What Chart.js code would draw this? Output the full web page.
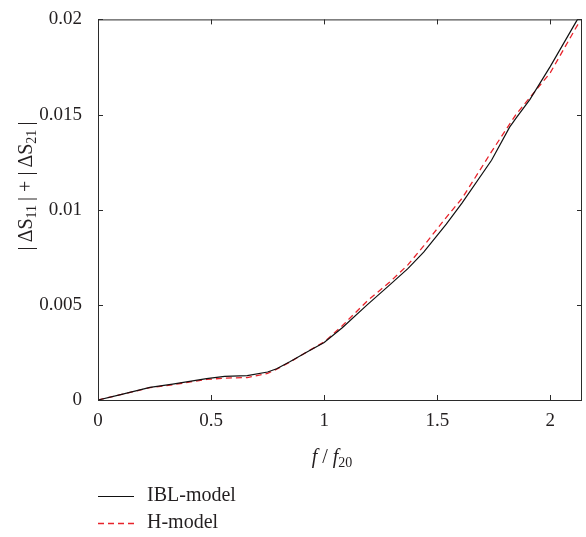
<!DOCTYPE html>
<html>
<head>
<meta charset="utf-8">
<script src="https://cdn.jsdelivr.net/npm/chart.js@4.4.1/dist/chart.umd.min.js"></script>
<style>
  html, body { margin: 0; padding: 0; background: #fff; }
  #wrap { width: 586px; height: 537px; }
</style>
</head>
<body>
<div id="wrap"><canvas id="chart"></canvas></div>
<script>
// values
const freq = [0, 0.1, 0.23, 0.33, 0.48, 0.56, 0.66, 0.75, 0.79, 0.85, 0.92, 1.0, 1.08, 1.19, 1.29, 1.37, 1.44, 1.54, 1.61, 1.74, 1.82, 1.85, 1.91, 2.0, 2.12, 2.14];
const iblModel = [0, 0.00028, 0.00066, 0.00083, 0.00112, 0.00124, 0.00128, 0.00147, 0.00164, 0.00202, 0.0025, 0.00302, 0.0038, 0.005, 0.00605, 0.0069, 0.00777, 0.00924, 0.01036, 0.0126, 0.01434, 0.01484, 0.0158, 0.01753, 0.02, 0.0204];
const hModel = [0, 0.00028, 0.00065, 0.0008, 0.00108, 0.00115, 0.00118, 0.0014, 0.00162, 0.002, 0.0025, 0.00305, 0.0039, 0.0052, 0.0062, 0.0071, 0.0081, 0.0096, 0.0106, 0.01305, 0.0145, 0.01503, 0.0159, 0.0172, 0.0197, 0.0199];
const xTicks = [0, 0.5, 1, 1.5, 2];
const yTicks = [0, 0.005, 0.01, 0.015, 0.02];
const seriesNames = ['IBL-model', 'H-model'];

const FONT = '"Liberation Serif", "DejaVu Serif", serif';
const TEXT = '#231f20';

// box with inward ticks on all four sides
const frame = {
  id: 'frame',
  afterDatasetsDraw(chart) {
    const { ctx, chartArea: a, scales: { x, y } } = chart;
    ctx.save();
    ctx.strokeStyle = '#2b2b2b';
    ctx.lineWidth = 1;
    ctx.strokeRect(a.left + 0.5, a.top + 0.5, a.right - a.left - 1, a.bottom - a.top);
    ctx.beginPath();
    x.ticks.forEach(t => {
      const px = Math.round(x.getPixelForValue(t.value)) + 0.5;
      ctx.moveTo(px, a.bottom); ctx.lineTo(px, a.bottom - 5);
      ctx.moveTo(px, a.top); ctx.lineTo(px, a.top + 5);
    });
    y.ticks.forEach(t => {
      const py = Math.round(y.getPixelForValue(t.value)) + 0.5;
      ctx.moveTo(a.left, py); ctx.lineTo(a.left + 5, py);
      ctx.moveTo(a.right, py); ctx.lineTo(a.right - 5, py);
    });
    ctx.stroke();
    ctx.restore();
  }
};

// draws a run of text pieces, subscripts smaller and lowered
function drawPieces(ctx, pieces, cx, cy) {
  const widths = pieces.map(p => {
    ctx.font = (p.it ? 'italic ' : '') + (p.sub ? '14px ' : '20px ') + FONT;
    return ctx.measureText(p.t).width;
  });
  let x = cx - widths.reduce((s, w) => s + w, 0) / 2;
  pieces.forEach((p, i) => {
    ctx.font = (p.it ? 'italic ' : '') + (p.sub ? '14px ' : '20px ') + FONT;
    ctx.fillText(p.t, x, cy + (p.sub ? 5 : 0));
    x += widths[i];
  });
}

const extras = {
  id: 'extras',
  afterDraw(chart) {
    const { ctx, chartArea: a } = chart;
    ctx.save();
    ctx.fillStyle = TEXT;
    ctx.textBaseline = 'middle';
    ctx.textAlign = 'left';

    // x title
    drawPieces(ctx, [
      { t: 'f', it: true }, { t: ' / ' }, { t: 'f', it: true }, { t: '20', sub: true }
    ], (a.left + a.right) / 2 - 8, 458);

    // y title
    ctx.save();
    ctx.translate(27, 186);
    ctx.rotate(-Math.PI / 2);
    drawPieces(ctx, [
      { t: '|\u2009ΔS' }, { t: '11', sub: true }, { t: '\u2009| + |\u2009ΔS' }, { t: '21', sub: true }, { t: '\u2009|' }
    ], 0, 0);
    ctx.restore();

    // legend
    chart.data.datasets.forEach((ds, i) => {
      const ly = 496 + i * 27;
      ctx.save();
      ctx.strokeStyle = ds.borderColor;
      ctx.lineWidth = ds.borderWidth;
      ctx.setLineDash(ds.borderDash || []);
      ctx.beginPath();
      ctx.moveTo(98, ly + 0.5);
      ctx.lineTo(134, ly + 0.5);
      ctx.stroke();
      ctx.restore();
      ctx.font = '20px ' + FONT;
      ctx.fillText(ds.label, 147, ly);
    });
    ctx.restore();
  }
};

new Chart(document.getElementById('chart'), {
  type: 'line',
  data: {
    datasets: [
      {
        label: seriesNames[0],
        data: freq.map((f, i) => ({ x: f, y: iblModel[i] })),
        borderColor: '#111111',
        borderWidth: 1.2,
        pointRadius: 0,
        tension: 0
      },
      {
        label: seriesNames[1],
        data: freq.map((f, i) => ({ x: f, y: hModel[i] })),
        borderColor: '#e8232b',
        borderWidth: 1.3,
        borderDash: [6, 4],
        pointRadius: 0,
        tension: 0
      }
    ]
  },
  options: {
    responsive: true,
    maintainAspectRatio: false,
    animation: false,
    layout: { padding: { top: 14, right: 4, left: 0, bottom: 0 } },
    plugins: { legend: { display: false }, tooltip: { enabled: false } },
    scales: {
      x: {
        type: 'linear',
        min: 0,
        max: 2.14,
        grid: { display: false },
        border: { display: false },
        afterBuildTicks: s => { s.ticks = xTicks.map(v => ({ value: v })); },
        afterFit: s => { s.height = 137; },
        ticks: {
          padding: 2,
          color: TEXT,
          font: { family: FONT, size: 19 },
          callback: v => String(v)
        }
      },
      y: {
        min: 0,
        max: 0.02,
        grid: { display: false },
        border: { display: false },
        afterBuildTicks: s => { s.ticks = yTicks.map(v => ({ value: v })); },
        afterFit: s => { s.width = 98; },
        ticks: {
          padding: 8,
          color: TEXT,
          font: { family: FONT, size: 19 },
          callback: v => String(v)
        }
      }
    }
  },
  plugins: [frame, extras]
});
</script>
</body>
</html>
